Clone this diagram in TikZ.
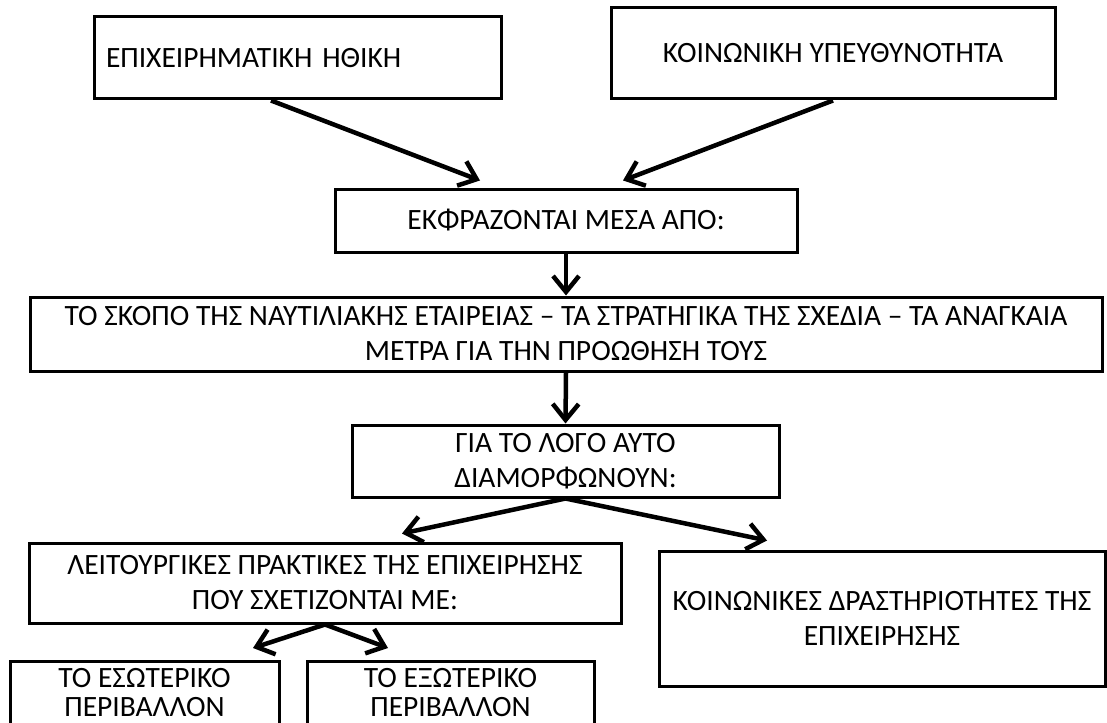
\documentclass[tikz,border=0pt]{standalone}
\usepackage{fontspec}
\setmainfont{Carlito}
\usepackage{tikz}
\usetikzlibrary{arrows.meta}

\begin{document}
\begin{tikzpicture}[x=1pt,y=-1pt]
\tikzset{box/.style = {shape=rectangle,draw,line width=3pt,align=center,font={\fontsize{29.5}{35}\selectfont}}}
\tikzset{edge/.style = {line width=4.5pt,-{Straight Barb[length=16pt,width=26pt]}}}
\clip (0,0) rectangle (1107,722);
\node[box,minimum width=407pt,minimum height=82pt,text width=383pt,inner xsep=12pt,align=left] (ethics) at (297.5,58) {ΕΠΙΧΕΙΡΗΜΑΤΙΚΗ ΗΘΙΚΗ};
\node[box,minimum width=444pt,minimum height=91pt] (resp) at (833,53.5) {ΚΟΙΝΩΝΙΚΗ ΥΠΕΥΘΥΝΟΤΗΤΑ};
\node[box,minimum width=462pt,minimum height=63pt] (expr) at (566,220.5) {ΕΚΦΡΑΖΟΝΤΑΙ ΜΕΣΑ ΑΠΟ:};
\node[box,minimum width=1072pt,minimum height=74pt,inner ysep=1pt] (goal) at (566,334) {ΤΟ ΣΚΟΠΟ ΤΗΣ ΝΑΥΤΙΛΙΑΚΗΣ ΕΤΑΙΡΕΙΑΣ – ΤΑ ΣΤΡΑΤΗΓΙΚΑ ΤΗΣ ΣΧΕΔΙΑ – ΤΑ ΑΝΑΓΚΑΙΑ\\ΜΕΤΡΑ ΓΙΑ ΤΗΝ ΠΡΟΩΘΗΣΗ ΤΟΥΣ};
\node[box,minimum width=427pt,minimum height=72pt,inner ysep=1pt] (reason) at (565.5,461) {ΓΙΑ ΤΟ ΛΟΓΟ ΑΥΤΟ\\ΔΙΑΜΟΡΦΩΝΟΥΝ:};
\node[box,minimum width=592pt,minimum height=80pt,inner ysep=1pt] (ops) at (325,583) {ΛΕΙΤΟΥΡΓΙΚΕΣ ΠΡΑΚΤΙΚΕΣ ΤΗΣ ΕΠΙΧΕΙΡΗΣΗΣ\\ΠΟΥ ΣΧΕΤΙΖΟΝΤΑΙ ΜΕ:};
\node[box,minimum width=446pt,minimum height=135pt] (social) at (882,618.5) {ΚΟΙΝΩΝΙΚΕΣ ΔΡΑΣΤΗΡΙΟΤΗΤΕΣ ΤΗΣ\\ΕΠΙΧΕΙΡΗΣΗΣ};
\node[box,minimum width=269pt,inner ysep=7pt,anchor=north,font={\fontsize{29.5}{29}\selectfont}] (inner) at (144.5,660) {ΤΟ ΕΣΩΤΕΡΙΚΟ\\ΠΕΡΙΒΑΛΛΟΝ\\\strut};
\node[box,minimum width=287pt,inner ysep=7pt,anchor=north,font={\fontsize{29.5}{29}\selectfont}] (outer) at (450.5,660) {ΤΟ ΕΞΩΤΕΡΙΚΟ\\ΠΕΡΙΒΑΛΛΟΝ\\\strut};

\draw[edge] ([xshift=-26.5pt]ethics.south) to ([xshift=-86pt,yshift=7pt]expr.north);
\draw[edge] (resp.south) to ([xshift=57pt,yshift=7pt]expr.north);
\draw[edge] (expr.south) to (goal.north);
\draw[edge] (goal.south) to (reason.north);
\draw[edge] (reason.south) to ([xshift=77pt,yshift=8pt]ops.north);
\draw[edge] (reason.south) to ([xshift=-115pt,yshift=9pt]social.north);
\draw[edge] (ops.south) to ([xshift=108.5pt,yshift=12pt]inner.north);
\draw[edge] (ops.south) to ([xshift=-62.5pt,yshift=12pt]outer.north);
\end{tikzpicture}
\end{document}
